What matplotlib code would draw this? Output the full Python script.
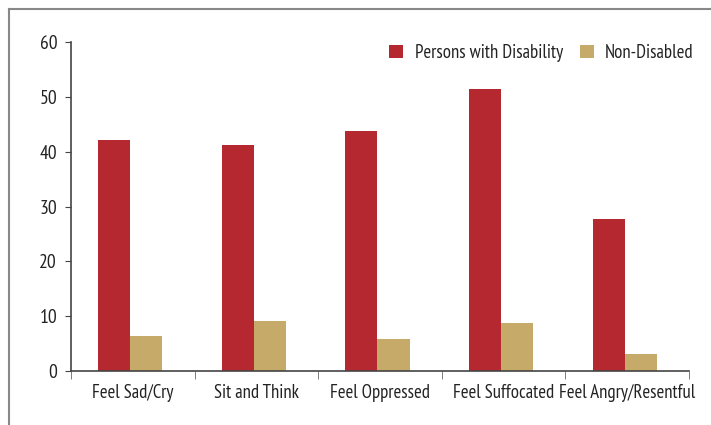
import numpy as np
import matplotlib.pyplot as plt
from matplotlib.lines import Line2D

plt.rcParams['font.family'] = ['PT Sans Narrow', 'DejaVu Sans']

categories = ["Feel Sad/Cry", "Sit and Think", "Feel Oppressed", "Feel Suffocated", "Feel Angry/Resentful"]
disabled = [42.1, 41.2, 43.8, 51.4, 27.7]
non_disabled = [6.4, 9.1, 5.8, 8.75, 3.1]
series_names = ["Persons with Disability", "Non-Disabled"]

red = "#B5282F"
tan = "#C6AA6A"
txt = "#222222"

fig = plt.figure(figsize=(7.11, 4.25), dpi=100)
ax = fig.add_axes([0.0999, 0.127, 0.869, 0.774])

x = np.arange(len(categories))
w = 0.26
ax.bar(x - w/2 - 0.02, disabled, w, color=red, label=series_names[0])
ax.bar(x + w/2 - 0.02, non_disabled, w, color=tan, label=series_names[1])

ax.set_xlim(-0.5, len(categories) - 0.5)
ax.set_ylim(0, 60)
ax.set_yticks(range(0, 61, 10))
ax.tick_params(axis='y', labelsize=14, length=4, color="#444444", pad=6, labelcolor=txt)

ax.set_xticks(x)
ax.set_xticklabels(categories, fontsize=13.5, color=txt)
ax.tick_params(axis='x', length=0, pad=9)
ax.set_xticks(np.arange(-0.5, len(categories), 1), minor=True)
ax.tick_params(axis='x', which='minor', length=6, color="#666666")

for s in ["top", "right"]:
    ax.spines[s].set_visible(False)
for s in ["left", "bottom"]:
    ax.spines[s].set_color("#444444")
    ax.spines[s].set_linewidth(1.2)

leg = ax.legend(loc="upper right", bbox_to_anchor=(1.035, 1.045), ncol=2, frameon=False,
                fontsize=13.5, handlelength=0.75, handleheight=0.75, columnspacing=0.9, handletextpad=0.6)
for t in leg.get_texts():
    t.set_color(txt)

# outer frame lines (top and left)
fig.add_artist(Line2D([0.013, 1.0], [0.979, 0.979], color="#888888", lw=1.5))
fig.add_artist(Line2D([0.013, 0.013], [0.0, 0.979], color="#888888", lw=1.5))

fig.savefig("out.png", dpi=100)
